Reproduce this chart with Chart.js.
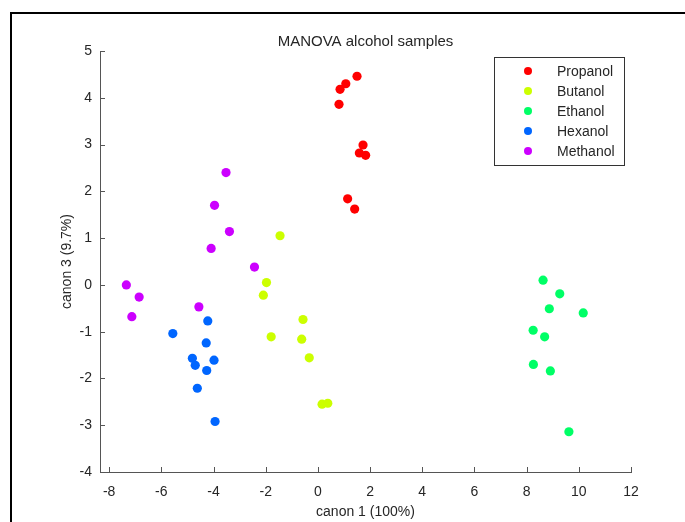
<!DOCTYPE html>
<html><head><meta charset="utf-8">
<script src="https://cdn.jsdelivr.net/npm/chart.js@4.4.1/dist/chart.umd.min.js"></script>
<style>html,body{margin:0;padding:0;background:#fff;overflow:hidden}#wrap{width:685px;height:522px}</style>
</head><body><div id="wrap"><canvas id="c" width="685" height="522"></canvas></div>
<script>
const groups = ['Propanol','Butanol','Ethanol','Hexanol','Methanol'];
const groupColors = ['#ff0000','#ccff00','#00ff66','#0066ff','#cc00ff'];

const propanolX = [1.50, 1.07, 0.85, 0.81, 1.73, 1.59, 1.83, 1.14, 1.41];
const propanolY = [4.46, 4.30, 4.18, 3.86, 2.99, 2.82, 2.77, 1.84, 1.62];
const butanolX  = [-1.45, -1.97, -2.09, -0.57, -1.79, -0.62, -0.33, 0.16, 0.38];
const butanolY  = [1.05, 0.05, -0.22, -0.74, -1.11, -1.16, -1.56, -2.55, -2.53];
const ethanolX  = [8.63, 9.27, 8.87, 10.17, 8.25, 8.69, 8.26, 8.91, 9.62];
const ethanolY  = [0.10, -0.19, -0.51, -0.60, -0.97, -1.11, -1.70, -1.84, -3.14];
const hexanolX  = [-4.22, -5.56, -4.28, -4.81, -4.70, -3.98, -4.26, -4.62, -3.94];
const hexanolY  = [-0.77, -1.04, -1.24, -1.57, -1.72, -1.61, -1.83, -2.21, -2.92];
const methanolX = [-3.52, -3.96, -3.39, -4.09, -2.43, -7.34, -6.85, -4.56, -7.13];
const methanolY = [2.40, 1.70, 1.14, 0.78, 0.38, 0.00, -0.26, -0.47, -0.68];

const xTicks = [-8,-6,-4,-2,0,2,4,6,8,10,12];
const yTicks = [-4,-3,-2,-1,0,1,2,3,4,5];

const seriesX = [propanolX, butanolX, ethanolX, hexanolX, methanolX];
const seriesY = [propanolY, butanolY, ethanolY, hexanolY, methanolY];

const FONT = '"Liberation Sans", Arial, sans-serif';
const AX = '#555555';
const TXT = '#262626';

const datasets = groups.map((g, i) => ({
  label: g,
  data: seriesX[i].map((x, j) => ({x: x, y: seriesY[i][j]})),
  backgroundColor: groupColors[i],
  borderWidth: 0,
  pointRadius: 4.6,
  pointHoverRadius: 4.6
}));

const framePlugin = {
  id: 'frame',
  beforeDraw(chart) {
    const ctx = chart.ctx;
    ctx.save();
    ctx.fillStyle = '#fff';
    ctx.fillRect(0, 0, chart.width, chart.height);
    ctx.strokeStyle = '#000';
    ctx.lineWidth = 2;
    ctx.strokeRect(11, 13, 800, 700);
    ctx.restore();
  },
  afterDraw(chart) {
    const ctx = chart.ctx;
    const xs = chart.scales.x, ys = chart.scales.y;
    const ca = chart.chartArea;
    ctx.save();
    ctx.strokeStyle = AX;
    ctx.lineWidth = 1;
    ctx.beginPath();
    xs.ticks.forEach(t => {
      const px = Math.round(xs.getPixelForValue(t.value)) + 0.5;
      ctx.moveTo(px, ca.bottom);
      ctx.lineTo(px, ca.bottom - 5);
    });
    ys.ticks.forEach(t => {
      const py = Math.round(ys.getPixelForValue(t.value)) + 0.5;
      ctx.moveTo(ca.left, py);
      ctx.lineTo(ca.left + 5, py);
    });
    ctx.stroke();
    // legend box
    const lx = 494.5, ly = 57.5, lw = 130, lh = 108;
    ctx.fillStyle = '#fff';
    ctx.fillRect(lx, ly, lw, lh);
    ctx.strokeStyle = '#333';
    ctx.strokeRect(lx, ly, lw, lh);
    ctx.font = '14px ' + FONT;
    ctx.textBaseline = 'middle';
    ctx.textAlign = 'left';
    chart.data.datasets.forEach((d, i) => {
      const cy = 71 + i * 20;
      ctx.beginPath();
      ctx.fillStyle = d.backgroundColor;
      ctx.arc(528, cy, 4, 0, Math.PI * 2);
      ctx.fill();
      ctx.fillStyle = TXT;
      ctx.fillText(d.label, 557, cy + 1);
    });
    ctx.restore();
  }
};

new Chart(document.getElementById('c'), {
  type: 'scatter',
  data: { datasets: datasets },
  options: {
    responsive: false,
    animation: false,
    devicePixelRatio: 1,
    layout: { padding: { left: 0, right: 54, top: 0, bottom: 0 } },
    plugins: {
      legend: { display: false },
      tooltip: { enabled: false },
      title: {
        display: true,
        text: 'MANOVA alcohol samples',
        fullSize: false,
        color: TXT,
        font: { family: FONT, size: 15, weight: 'normal' },
        padding: { top: 33, bottom: 0 }
      }
    },
    scales: {
      x: {
        type: 'linear',
        min: -8.35,
        max: 12,
        afterBuildTicks: s => { s.ticks = xTicks.map(v => ({ value: v })); },
        afterFit: s => { s.height = 50; },
        grid: { display: false, drawTicks: false },
        border: { display: true, color: AX, width: 1 },
        ticks: { color: TXT, font: { family: FONT, size: 14 }, padding: 12, maxRotation: 0, autoSkip: false },
        title: { display: true, text: 'canon 1 (100%)', color: TXT, font: { family: FONT, size: 14 }, padding: { top: 0, bottom: 1 } }
      },
      y: {
        type: 'linear',
        min: -4,
        max: 5,
        afterBuildTicks: s => { s.ticks = yTicks.map(v => ({ value: v })); },
        afterFit: s => { s.width = 100; },
        grid: { display: false, drawTicks: false },
        border: { display: true, color: AX, width: 1 },
        ticks: { color: TXT, font: { family: FONT, size: 14 }, padding: 8, autoSkip: false },
        title: { display: true, text: 'canon 3 (9.7%)', color: TXT, font: { family: FONT, size: 14 }, padding: { top: 59, bottom: 0 } }
      }
    }
  },
  plugins: [framePlugin]
});
</script></body></html>
